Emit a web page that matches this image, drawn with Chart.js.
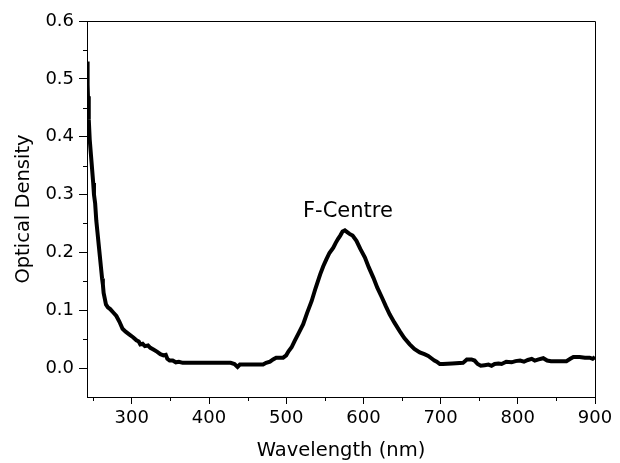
<!DOCTYPE html>
<html>
<head>
<meta charset="utf-8">
<script src="https://cdn.jsdelivr.net/npm/chart.js@4.4.1/dist/chart.umd.min.js"></script>
<style>
  html, body { margin: 0; padding: 0; background: #ffffff; }
  #wrap { width: 620px; height: 463px; }
</style>
</head>
<body>
<div id="wrap"><canvas id="spectrum"></canvas></div>
<script>
// Absorption spectrum
const wavelength = [
  242, 242.5, 243, 243.5, 244, 244.5, 245.5, 247, 248.5, 250,
  251, 252.5, 254, 255.5, 257, 258.5, 260, 261.5, 262.5, 263.5,
  265, 266.5, 269, 272, 276, 280, 284, 288, 292, 297,
  302, 306, 309, 311, 314, 317, 321, 324, 328, 333,
  337, 341, 344, 346, 349, 353, 357, 361, 366, 375,
  388, 400, 415, 428, 433, 437, 440, 450, 462, 470,
  474, 479, 483, 487, 496, 500, 503, 507, 511, 516,
  522, 527, 533, 538, 544, 548, 552, 556, 561, 564,
  567, 570, 573, 576, 579, 582, 586, 591, 596, 602,
  607, 613, 618, 624, 629, 634, 640, 647, 653, 660,
  666, 673, 679, 684, 688, 692, 695, 699, 703, 715,
  729, 734, 740, 744, 748, 752, 757, 762, 766, 770,
  775, 779, 785, 792, 797, 803, 808, 813, 818, 822,
  827, 833, 838, 843, 852, 863, 868, 872, 880, 887,
  893, 897, 900
];
const density = [
  0.530, 0.520, 0.490, 0.455, 0.470, 0.430, 0.395, 0.370, 0.345, 0.320,
  0.300, 0.285, 0.255, 0.235, 0.215, 0.195, 0.175, 0.155, 0.145, 0.130,
  0.120, 0.110, 0.105, 0.102, 0.096, 0.090, 0.080, 0.068, 0.063, 0.058,
  0.053, 0.048, 0.046, 0.041, 0.042, 0.038, 0.039, 0.035, 0.032, 0.028,
  0.024, 0.022, 0.023, 0.016, 0.013, 0.013, 0.010, 0.011, 0.009, 0.009,
  0.009, 0.009, 0.009, 0.009, 0.007, 0.002, 0.006, 0.006, 0.006, 0.006,
  0.009, 0.011, 0.015, 0.018, 0.018, 0.022, 0.029, 0.036, 0.047, 0.060,
  0.076, 0.095, 0.116, 0.138, 0.162, 0.176, 0.188, 0.199, 0.208, 0.216,
  0.223, 0.229, 0.236, 0.238, 0.235, 0.232, 0.229, 0.220, 0.206, 0.191,
  0.174, 0.156, 0.139, 0.122, 0.107, 0.093, 0.079, 0.064, 0.052, 0.041,
  0.033, 0.027, 0.024, 0.021, 0.017, 0.013, 0.011, 0.007, 0.007, 0.008,
  0.009, 0.015, 0.015, 0.013, 0.007, 0.004, 0.005, 0.006, 0.004, 0.007,
  0.008, 0.007, 0.011, 0.010, 0.012, 0.013, 0.011, 0.014, 0.016, 0.013,
  0.015, 0.017, 0.013, 0.012, 0.012, 0.012, 0.016, 0.019, 0.019, 0.018,
  0.018, 0.016, 0.019
];

// axis ticks
const xTicks = [300, 400, 500, 600, 700, 800, 900];
const xMinorTicks = [250, 350, 450, 550, 650, 750, 850];
const yTicks = [0.0, 0.1, 0.2, 0.3, 0.4, 0.5, 0.6];
const yMinorTicks = [0.05, 0.15, 0.25, 0.35, 0.45, 0.55];

// annotation
const peakLabel = "F-Centre";
const peakLabelAt = { x: 580, y: 0.262 };

const FONT = "'DejaVu Sans', 'Liberation Sans', Arial, sans-serif";

const points = wavelength.map((w, i) => ({ x: w, y: density[i] }));

// box round the plot, minor ticks and the peak label
const extras = {
  id: "extras",
  afterDraw(chart) {
    const { ctx, chartArea: a, scales: { x, y } } = chart;
    ctx.save();
    ctx.strokeStyle = "#000";
    ctx.lineWidth = 1;
    ctx.beginPath();
    ctx.moveTo(a.left, a.top + 0.5);
    ctx.lineTo(a.right + 0.5, a.top + 0.5);
    ctx.lineTo(a.right + 0.5, a.bottom);
    ctx.stroke();

    ctx.beginPath();
    xMinorTicks.forEach(v => {
      const px = Math.round(x.getPixelForValue(v)) + 0.5;
      ctx.moveTo(px, a.bottom);
      ctx.lineTo(px, a.bottom + 4);
    });
    yMinorTicks.forEach(v => {
      const py = Math.round(y.getPixelForValue(v)) + 0.5;
      ctx.moveTo(a.left, py);
      ctx.lineTo(a.left - 4, py);
    });
    ctx.stroke();

    ctx.fillStyle = "#000";
    ctx.font = "21px " + FONT;
    ctx.textAlign = "center";
    ctx.textBaseline = "alphabetic";
    ctx.fillText(peakLabel, x.getPixelForValue(peakLabelAt.x), y.getPixelForValue(peakLabelAt.y));
    ctx.restore();
  }
};

new Chart(document.getElementById("spectrum").getContext("2d"), {
  type: "scatter",
  data: {
    datasets: [{
      label: "Optical Density",
      data: points,
      showLine: true,
      borderColor: "#000000",
      backgroundColor: "#000000",
      borderWidth: 4,
      pointRadius: 0,
      tension: 0
    }]
  },
  options: {
    responsive: true,
    maintainAspectRatio: false,
    animation: false,
    layout: { padding: { top: 21, right: 25, bottom: 0, left: 0 } },
    plugins: {
      legend: { display: false },
      tooltip: { enabled: false }
    },
    scales: {
      x: {
        type: "linear",
        min: 242,
        max: 900,
        afterBuildTicks: s => { s.ticks = xTicks.map(v => ({ value: v })); },
        border: { display: true, color: "#000", width: 1 },
        grid: { drawOnChartArea: false, drawTicks: true, tickLength: 7, tickColor: "#000", tickWidth: 1 },
        ticks: {
          color: "#000",
          padding: 4,
          maxRotation: 0,
          font: { family: FONT, size: 18 },
          callback: v => String(v)
        },
        title: {
          display: true,
          text: "Wavelength (nm)",
          color: "#000",
          font: { family: FONT, size: 19.5 },
          padding: { top: 6, bottom: 0 }
        }
      },
      y: {
        type: "linear",
        min: -0.05,
        max: 0.6,
        afterBuildTicks: s => { s.ticks = yTicks.map(v => ({ value: v })); },
        border: { display: true, color: "#000", width: 1 },
        grid: { drawOnChartArea: false, drawTicks: true, tickLength: 8, tickColor: "#000", tickWidth: 1 },
        ticks: {
          color: "#000",
          padding: 5,
          font: { family: FONT, size: 18 },
          callback: v => Number(v).toFixed(1)
        },
        title: {
          display: true,
          text: "Optical Density",
          color: "#000",
          font: { family: FONT, size: 19.5 },
          padding: { top: 12, bottom: 5 }
        }
      }
    }
  },
  plugins: [extras]
});
</script>
</body>
</html>
